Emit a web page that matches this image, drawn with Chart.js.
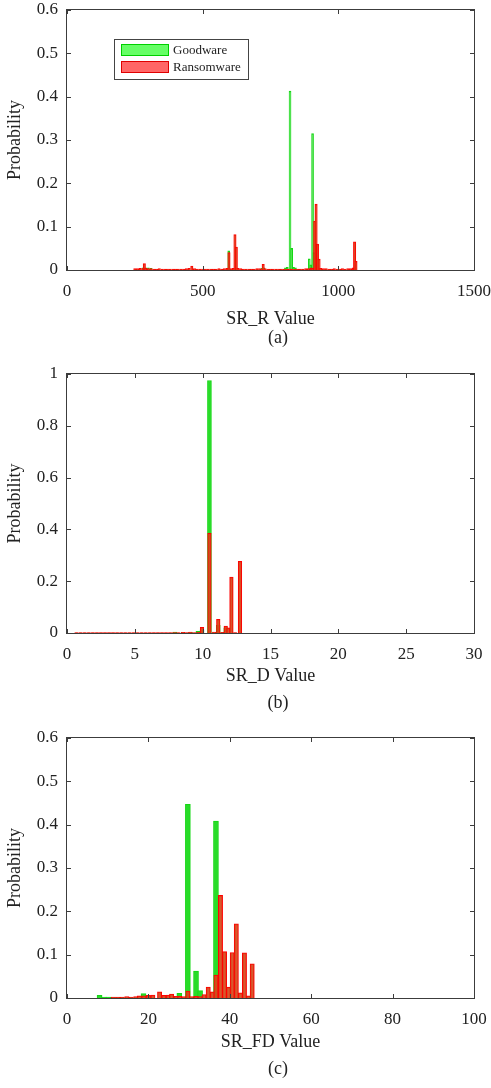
<!DOCTYPE html>
<html><head><meta charset="utf-8">
<script src="https://cdn.jsdelivr.net/npm/chart.js@4.4.1/dist/chart.umd.min.js"></script>
<style>
html,body{margin:0;padding:0;background:#fff;width:491px;height:1088px;overflow:hidden;position:relative;}
canvas{position:absolute;left:0;}
.cap{position:absolute;width:80px;text-align:center;font-family:"Liberation Serif","Times New Roman",serif;font-size:18px;color:#222;line-height:20px}
</style></head><body>
<canvas id="cA" width="491" height="345" style="top:0px"></canvas>
<canvas id="cB" width="491" height="350" style="top:345px"></canvas>
<canvas id="cC" width="491" height="383" style="top:705px"></canvas>
<div class="cap" style="left:238px;top:327px">(a)</div>
<div class="cap" style="left:238px;top:692px">(b)</div>
<div class="cap" style="left:238px;top:1058px">(c)</div>
<script>
const seriesNames = ['Goodware', 'Ransomware'];

// Panel (a): SR_R
const ticksAX = [0, 500, 1000, 1500];
const labelsAX = ['0', '500', '1000', '1500'];
const ticksAY = [0, 0.1, 0.2, 0.3, 0.4, 0.5, 0.6];
const labelsAY = ['0', '0.1', '0.2', '0.3', '0.4', '0.5', '0.6'];
const goodA_x = [280,290,300,310,590,596,720,726,805,812,822,828,835,842,893,898,905,910,918];
const goodA_y = [.005,.005,.005,.004,.003,.044,.004,.005,.005,.006,.413,.050,.006,.005,.026,.012,.315,.040,.003];
const ransA_x = [250,260,270,280,285,290,300,310,320,330,
  340,350,360,370,380,390,400,410,420,430,
  440,450,460,470,480,490,500,510,520,530,
  540,550,560,570,580,590,597,605,613,619,
  624,630,640,650,660,670,680,690,700,710,
  716,723,730,740,750,760,770,780,790,800,
  810,820,830,840,850,860,870,880,890,900,
  906,913,918,923,929,935,945,955,965,975,
  985,995,1005,1015,1025,1035,1045,1055,1060,1065];
const ransA_y = [.003,.003,.004,.003,.015,.004,.003,.003,.002,.002,
  .003,.002,.002,.002,.002,.002,.002,.002,.002,.002,
  .003,.004,.009,.003,.002,.002,.002,.002,.002,.002,
  .002,.002,.003,.002,.003,.004,.040,.003,.004,.082,
  .053,.004,.003,.002,.002,.002,.002,.002,.003,.003,
  .002,.013,.003,.002,.002,.002,.002,.002,.002,.002,
  .002,.002,.002,.002,.002,.002,.002,.003,.003,.005,
  .004,.113,.152,.060,.025,.004,.003,.003,.002,.002,
  .003,.002,.002,.003,.002,.003,.003,.005,.065,.020];

// Panel (b): SR_D
const ticksBX = [0, 5, 10, 15, 20, 25, 30];
const labelsBX = ['0', '5', '10', '15', '20', '25', '30'];
const ticksBY = [0, 0.2, 0.4, 0.6, 0.8, 1];
const labelsBY = ['0', '0.2', '0.4', '0.6', '0.8', '1'];
const goodB_x = [7.95,8.55,9.1,9.65,9.95,10.5,11.15,11.7];
const goodB_y = [.004,.003,.003,.006,.012,.975,.030,.020];
const ransB_x = [0.7,1.0,1.3,1.6,1.9,2.2,2.5,2.8,3.1,3.4,
  3.7,4.0,4.3,4.6,4.9,5.2,5.5,5.8,6.1,6.4,
  6.7,7.0,7.3,7.6,7.9,8.2,8.55,8.85,9.1,9.4,
  9.7,9.95,10.5,10.85,11.15,11.45,11.7,11.9,12.12,12.4,
  12.75];
const ransB_y = [.002,.002,.002,.002,.002,.002,.002,.002,.002,.002,
  .002,.002,.002,.002,.002,.002,.002,.002,.002,.002,
  .002,.002,.002,.002,.002,.002,.003,.002,.004,.002,
  .003,.022,.385,.004,.053,.003,.027,.020,.216,.002,
  .277];

// Panel (c): SR_FD
const ticksCX = [0, 20, 40, 60, 80, 100];
const labelsCX = ['0', '20', '40', '60', '80', '100'];
const ticksCY = [0, 0.1, 0.2, 0.3, 0.4, 0.5, 0.6];
const labelsCY = ['0', '0.1', '0.2', '0.3', '0.4', '0.5', '0.6'];
const goodC_x = [8.0,9.1,10.2,11.3,18.8,19.9,27.6,29.7,31.7,32.7,36.6];
const goodC_y = [.006,.002,.002,.001,.010,.005,.011,.447,.062,.017,.408];
const ransC_x = [11.4,12.5,13.6,14.7,15.8,16.9,17.8,18.9,20.0,21.1,
  22.75,23.8,24.9,25.7,26.8,27.7,28.7,29.7,30.6,31.7,
  32.7,33.7,34.7,35.7,36.6,37.7,38.7,39.7,40.6,41.6,
  42.6,43.6,44.6,45.5];
const ransC_y = [.002,.002,.002,.003,.002,.003,.005,.005,.006,.007,
  .014,.006,.007,.009,.004,.004,.003,.016,.003,.004,
  .003,.008,.025,.014,.053,.237,.107,.025,.105,.171,
  .012,.104,.005,.079];

const FONT = '"Liberation Serif", "Times New Roman", serif';
Chart.defaults.font.family = FONT;
Chart.defaults.color = '#222';

const GREEN_FILL = 'rgba(40,220,40,1)', GREEN_EDGE = 'rgba(20,215,20,1)';
const RED_FILL = 'rgba(215,72,28,0.92)', RED_EDGE = '#ff0000';
const AXIS = '#3c3c3c';

const boxPlugin = {
  id: 'boxTicks',
  afterDatasetsDraw(chart) {
    const {ctx, chartArea: a, scales: {x, y}} = chart;
    ctx.save();
    ctx.strokeStyle = AXIS; ctx.lineWidth = 1;
    ctx.strokeRect(a.left - 0.5, a.top - 0.5, a.right - a.left + 1, a.bottom - a.top + 1);
    ctx.beginPath();
    x.ticks.forEach(t => {
      const px = Math.round(x.getPixelForValue(t.value)) + 0.5;
      ctx.moveTo(px, a.bottom); ctx.lineTo(px, a.bottom - 4);
      ctx.moveTo(px, a.top); ctx.lineTo(px, a.top + 4);
    });
    y.ticks.forEach(t => {
      const py = Math.round(y.getPixelForValue(t.value)) + 0.5;
      ctx.moveTo(a.left, py); ctx.lineTo(a.left + 4, py);
      ctx.moveTo(a.right, py); ctx.lineTo(a.right - 4, py);
    });
    ctx.stroke();
    ctx.restore();
  }
};

const legendPlugin = {
  id: 'legendBox',
  afterDraw(chart) {
    const {ctx, chartArea: a} = chart;
    const L = a.left + 47, T = a.top + 29, W = 134, H = 40;
    ctx.save();
    ctx.fillStyle = '#fff'; ctx.fillRect(L, T, W, H);
    ctx.strokeStyle = '#444'; ctx.lineWidth = 1; ctx.strokeRect(L + 0.5, T + 0.5, W, H);
    const fills = ['rgb(102,255,102)', 'rgb(255,102,102)'];
    const edges = ['#00d000', '#e00000'];
    ctx.font = '13px ' + FONT;
    ctx.textBaseline = 'middle';
    seriesNames.forEach((name, i) => {
      const py = T + 5 + i * 17;
      ctx.fillStyle = fills[i]; ctx.fillRect(L + 7, py, 48, 12);
      ctx.strokeStyle = edges[i]; ctx.strokeRect(L + 7.5, py + 0.5, 47, 11);
      ctx.fillStyle = '#222'; ctx.fillText(name, L + 59, py + 6.5);
    });
    ctx.restore();
  }
};

function pts(xs, ys) { return xs.map((x, i) => ({x: x, y: ys[i]})); }

function panel(id, o) {
  return new Chart(document.getElementById(id), {
    type: 'bar',
    data: {
      datasets: [
        {label: seriesNames[1], data: pts(o.rx, o.ry), backgroundColor: RED_FILL, borderColor: RED_EDGE,
         borderWidth: 1, borderSkipped: 'start', barThickness: o.rw, grouped: false, order: 1},
        {label: seriesNames[0], data: pts(o.gx, o.gy), backgroundColor: GREEN_FILL, borderColor: GREEN_EDGE,
         borderWidth: 1, borderSkipped: 'start', barThickness: o.gw, grouped: false, order: 2}
      ]
    },
    options: {
      responsive: false, animation: false, events: [],
      layout: {padding: {top: o.pt, right: 17, bottom: 0, left: 0}},
      plugins: {legend: {display: false}, tooltip: {enabled: false}},
      scales: {
        x: {
          type: 'linear', min: o.xt[0], max: o.xt[o.xt.length - 1], offset: false,
          grid: {display: false, drawTicks: false}, border: {display: false},
          afterBuildTicks: s => { s.ticks = o.xt.map(v => ({value: v})); },
          ticks: {callback: (v, i) => o.xl[i], padding: 11, font: {size: 17}, maxRotation: 0, autoSkip: false},
          title: {display: true, text: o.xtitle, font: {size: 18}, padding: {top: 0, bottom: o.tpad}},
          afterFit: s => { s.height = o.xh; s.paddingLeft = 0; s.paddingRight = 0; }
        },
        y: {
          type: 'linear', min: 0, max: o.yt[o.yt.length - 1],
          grid: {display: false, drawTicks: false}, border: {display: false},
          afterBuildTicks: s => { s.ticks = o.yt.map(v => ({value: v})); },
          ticks: {callback: (v, i) => o.yl[i], padding: 9, font: {size: 17}, autoSkip: false},
          title: {display: true, text: 'Probability', font: {size: 18}, padding: {top: 4, bottom: 0}},
          afterFit: s => { s.width = 67; s.paddingTop = 0; s.paddingBottom = 0; }
        }
      }
    },
    plugins: o.legend ? [boxPlugin, legendPlugin] : [boxPlugin]
  });
}

panel('cA', {rx: ransA_x, ry: ransA_y, gx: goodA_x, gy: goodA_y, rw: 2.4, gw: 2.0,
  xt: ticksAX, xl: labelsAX, yt: ticksAY, yl: labelsAY, xtitle: 'SR_R Value',
  pt: 10, xh: 75, tpad: 15, legend: true});
panel('cB', {rx: ransB_x, ry: ransB_y, gx: goodB_x, gy: goodB_y, rw: 3.6, gw: 4.0,
  xt: ticksBX, xl: labelsBX, yt: ticksBY, yl: labelsBY, xtitle: 'SR_D Value',
  pt: 29, xh: 62, tpad: 8, legend: false});
panel('cC', {rx: ransC_x, ry: ransC_y, gx: goodC_x, gy: goodC_y, rw: 4.3, gw: 5.0,
  xt: ticksCX, xl: labelsCX, yt: ticksCY, yl: labelsCY, xtitle: 'SR_FD Value',
  pt: 33, xh: 90, tpad: 35, legend: false});
</script>
</body></html>
